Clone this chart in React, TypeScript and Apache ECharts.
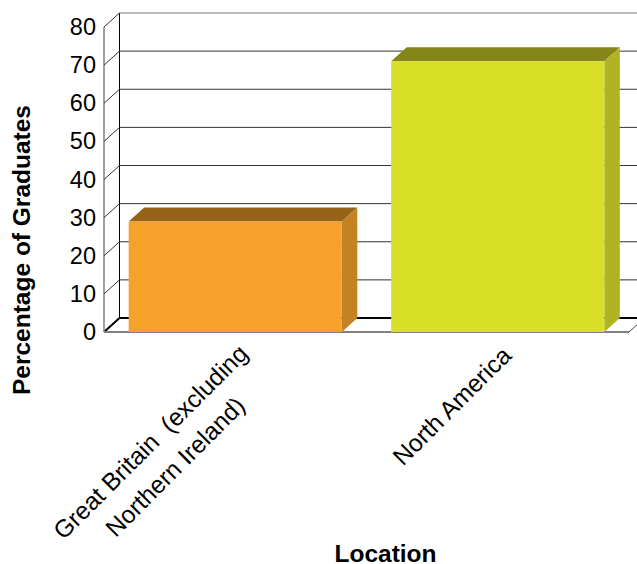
import React, { useEffect, useRef } from "react";
import * as echarts from "echarts";

const categories = ["Great Britain  (excluding\nNorthern Ireland)", "North America"];
const percentages = [29, 71];
const tickValues = [0, 10, 20, 30, 40, 50, 60, 70, 80];
const frontColors = ["#F5A12B", "#D8DF26"];
const topColors = ["#956418", "#858518"];
const sideColors = ["#C48322", "#B0B322"];
const xTitle = "Location";
const yTitle = "Percentage of Graduates";

const FONT = '"Liberation Sans", Arial, sans-serif';
const DX = 15.5;
const DY = 14;
const BAR_RATIO = 0.812;

function line(x1: number, y1: number, x2: number, y2: number, stroke: string, lineWidth: number) {
  return { type: "line", shape: { x1, y1, x2, y2 }, style: { stroke, lineWidth, fill: "none" } };
}

function renderWall(params: any, api: any) {
  const v = api.value(1);
  const [x0, y] = api.coord([0, v]);
  const sys = params.coordSys;
  const left = sys.x;
  const right = sys.x + sys.width;
  const children: any[] = [];
  if (v === 0) {
    children.push(line(left + DX, y - DY, right + DX, y - DY, "#000", 2));
    children.push(line(left, y, left + DX, y - DY, "#000", 2));
    children.push(line(right, y, right + DX, y - DY, "#444", 1));
    children.push(line(left, y, right, y, "#808080", 2));
    children.push(line(left, sys.y, left, y, "#808080", 1.5));
    children.push(line(left + DX, sys.y - DY, left + DX, y - DY, "#000", 1));
  } else {
    const top = v === tickValues[tickValues.length - 1];
    children.push(line(left, y, left + DX, y - DY, "#333", 1));
    children.push(line(left + DX, y - DY, right + DX, y - DY, top ? "#777" : "#333", 1));
  }
  return { type: "group", children };
}

function renderBar(params: any, api: any) {
  const i = params.dataIndex;
  const [cx, yTop] = api.coord([api.value(0), api.value(1)]);
  const [, yBase] = api.coord([api.value(0), 0]);
  const w = api.size([1, 0])[0] * BAR_RATIO;
  const l = cx - w / 2;
  const r = cx + w / 2;
  return {
    type: "group",
    children: [
      {
        type: "polygon",
        shape: { points: [[l, yTop], [r, yTop], [r + DX, yTop - DY], [l + DX, yTop - DY]] },
        style: { fill: topColors[i] },
      },
      {
        type: "polygon",
        shape: { points: [[r, yTop], [r + DX, yTop - DY], [r + DX, yBase - DY], [r, yBase]] },
        style: { fill: sideColors[i] },
      },
      { type: "rect", shape: { x: l, y: yTop, width: w, height: yBase - yTop }, style: { fill: frontColors[i] } },
    ],
  };
}

export default function App() {
  const ref = useRef<HTMLDivElement>(null);
  useEffect(() => {
    document.body.style.margin = "0";
    const chart = echarts.init(ref.current!, undefined, { renderer: "svg" });
    chart.setOption({
      animation: false,
      backgroundColor: "#fff",
      textStyle: { fontFamily: FONT },
      grid: [
        { left: 104, top: 27, width: 525, height: 305, outerBoundsMode: "none" },
        { left: 113.5, top: 13, width: 525, height: 305, outerBoundsMode: "none" },
      ],
      xAxis: [
        {
          type: "category",
          gridIndex: 0,
          data: categories,
          axisLine: { show: false },
          axisTick: { show: false },
          axisLabel: { show: false },
          splitLine: { show: false },
        },
        {
          type: "category",
          gridIndex: 1,
          data: categories.map((c, i) =>
            i === 0 ? { value: c, textStyle: { padding: [31, 0, 0, 0] } } : { value: c }
          ),
          axisLine: { show: false },
          axisTick: { show: false },
          splitLine: { show: false },
          axisLabel: {
            interval: 0,
            rotate: 45,
            margin: 32.5,
            fontSize: 24.5,
            lineHeight: 35,
            color: "#000",
            fontFamily: FONT,
            formatter: (s: string) =>
              s
                .split("\n")
                .map((p) => `{c|${p}}`)
                .join("\n"),
            rich: { c: { align: "center", fontSize: 24.5, lineHeight: 35, fontFamily: FONT, color: "#000" } },
          },
          name: xTitle,
          nameLocation: "middle",
          nameGap: 223,
          nameMoveOverlap: false,
          nameTextStyle: { fontSize: 24.5, fontWeight: "bold", color: "#000", fontFamily: FONT, padding: [0, 0, 0, 19] },
        },
      ],
      yAxis: [
        {
          type: "value",
          gridIndex: 0,
          min: 0,
          max: 80,
          interval: 10,
          axisLine: { show: false },
          axisTick: { show: false },
          splitLine: { show: false },
          axisLabel: { margin: 8, fontSize: 23.5, color: "#000", fontFamily: FONT },
        },
        {
          type: "value",
          gridIndex: 1,
          min: 0,
          max: 80,
          interval: 10,
          show: false,
        },
      ],
      graphic: [
        {
          type: "text",
          x: 21,
          y: 250,
          rotation: Math.PI / 2,
          style: {
            text: yTitle,
            font: `bold 24.5px ${FONT}`,
            fill: "#000",
            align: "center",
            verticalAlign: "middle",
          },
        },
      ],
      series: [
        {
          type: "custom",
          xAxisIndex: 0,
          yAxisIndex: 0,
          clip: false,
          silent: true,
          z: 1,
          encode: { x: 0, y: 1 },
          data: tickValues.map((t) => [0, t]),
          renderItem: renderWall,
        },
        {
          type: "custom",
          xAxisIndex: 0,
          yAxisIndex: 0,
          clip: false,
          silent: true,
          z: 2,
          encode: { x: 0, y: 1 },
          data: percentages.map((p, i) => [i, p]),
          renderItem: renderBar,
        },
      ],
    });
    return () => chart.dispose();
  }, []);
  return <div ref={ref} style={{ width: 637, height: 564, position: "absolute", left: 0, top: 0, overflow: "hidden" }} />;
}
